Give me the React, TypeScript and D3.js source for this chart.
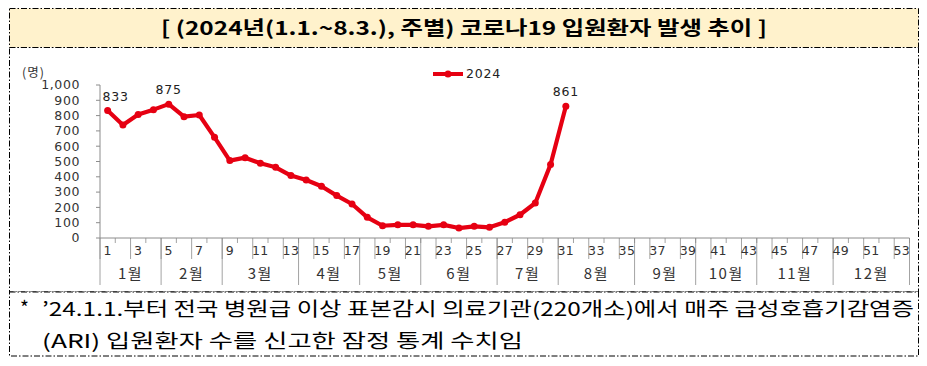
import React from "react";
import * as d3 from "d3";

const weeks: number[] = Array.from({ length: 53 }, (_, i) => i + 1);
const patients2024: number[] = [
  833, 739, 807, 839, 875, 793, 804, 658, 506, 525, 488, 462, 408, 379, 338,
  277, 222, 135, 80, 86, 86, 76, 86, 65, 76, 70, 103, 152, 229, 480, 861,
];
const labelledWeeks: number[] = [1, 5, 31];
const yTicks: number[] = [0, 100, 200, 300, 400, 500, 600, 700, 800, 900, 1000];
const months: string[] = ["1월", "2월", "3월", "4월", "5월", "6월", "7월", "8월", "9월", "10월", "11월", "12월"];
const monthWeeks: number[] = [4, 4, 5, 4, 4, 5, 4, 5, 4, 4, 5, 5];
const seriesName = "2024";
const titleText = "[ (2024년(1.1.~8.3.), 주별) 코로나19 입원환자 발생 추이 ]";
const yUnit = "(명)";
const note1a = "*";
const note1b = "’24.1.1.부터 전국 병원급 이상 표본감시 의료기관(220개소)에서 매주 급성호흡기감염증";
const note2 = "(ARI) 입원환자 수를 신고한 잠정 통계 수치임";

const W = 927;
const H = 366;
const RED = "#e60012";
const AXIS = "#8c8c8c";
const numFont = "'DejaVu Sans', Verdana, sans-serif";
const krFont = "'Noto Sans CJK KR', 'Noto Sans', sans-serif";
const dash = "6 2 1.5 2";

export default function App() {
  const x = d3.scaleBand<number>().domain(weeks).range([100, 909.5]).padding(0);
  const y = d3.scaleLinear().domain([0, 1000]).range([238, 85]);
  const cx = (w: number) => (x(w) as number) + x.bandwidth() / 2;

  const line = d3
    .line<number>()
    .x((_, i) => cx(i + 1))
    .y((v) => y(v));

  const bounds: number[] = [0];
  monthWeeks.forEach((n) => bounds.push(bounds[bounds.length - 1] + n));
  const bx = (idx: number) => 100 + idx * x.bandwidth();

  const fmt = d3.format(",");

  return (
    <svg width={W} height={H} style={{ position: "absolute", left: 0, top: 0, background: "#fff" }}>
      {/* Title box */}
      <rect x={9.5} y={8.5} width={909} height={39} fill="#fff2cc" stroke="#000" strokeDasharray={dash} />
      <text
        x={464}
        y={35}
        textAnchor="middle"
        fontFamily={krFont}
        fontWeight="bold"
        fontSize={19}
        textLength={606}
        lengthAdjust="spacingAndGlyphs"
        fill="#000"
      >
        {titleText}
      </text>

      {/* Chart box */}
      <rect x={9.5} y={47.5} width={909} height={244.5} fill="#fff" stroke="#000" strokeDasharray={dash} />

      {/* Y unit */}
      <text x={22} y={77} fontFamily={krFont} fontSize={12.5} letterSpacing={1} fill="#333">{yUnit}</text>

      {/* Y axis */}
      <line x1={100} x2={100} y1={y(1000)} y2={y(0)} stroke={AXIS} />
      {yTicks.map((t) => (
        <g key={t}>
          <line x1={96} x2={100} y1={y(t)} y2={y(t)} stroke={AXIS} />
          <text
            x={80}
            y={y(t)}
            dy="0.35em"
            textAnchor="end"
            fontFamily={numFont}
            fontSize={12.5}
            letterSpacing={0.6}
            fill="#333"
          >
            {fmt(t)}
          </text>
        </g>
      ))}

      {/* X axis */}
      <line x1={100} x2={909.5} y1={238} y2={238} stroke={AXIS} />
      {d3.range(0, 54).map((i) => (
        <line
          key={"m" + i}
          x1={bx(i)}
          x2={bx(i)}
          y1={238}
          y2={i % 2 === 0 ? 259 : 243}
          stroke={AXIS}
          strokeWidth={0.8}
        />
      ))}
      {bounds.map((b, i) => (
        <line key={"b" + i} x1={bx(b)} x2={bx(b)} y1={238} y2={285} stroke={AXIS} strokeWidth={0.8} />
      ))}
      {weeks
        .filter((w) => w % 2 === 1)
        .map((w) => (
          <text
            key={"w" + w}
            x={cx(w)}
            y={255}
            textAnchor="middle"
            fontFamily={numFont}
            fontSize={12.5}
            letterSpacing={0.4}
            fill="#333"
          >
            {w}
          </text>
        ))}
      {months.map((m, i) => (
        <text
          key={m}
          x={(bx(bounds[i]) + bx(bounds[i + 1])) / 2}
          y={279}
          textAnchor="middle"
          fontFamily={krFont}
          fontSize={15}
          letterSpacing={1.5}
          fill="#333"
        >
          {m}
        </text>
      ))}

      {/* Series */}
      <path d={line(patients2024) || ""} fill="none" stroke={RED} strokeWidth={4.2} strokeLinejoin="round" />
      {patients2024.map((v, i) => (
        <circle key={i} cx={cx(i + 1)} cy={y(v)} r={3.5} fill={RED} />
      ))}
      {labelledWeeks.map((w) => (
        <text
          key={"l" + w}
          x={cx(w) + (w === 1 ? 8 : 0)}
          y={y(patients2024[w - 1]) - 10}
          textAnchor="middle"
          fontFamily={numFont}
          fontSize={12.5}
          letterSpacing={0.8}
          fill="#222"
        >
          {patients2024[w - 1]}
        </text>
      ))}

      {/* Legend */}
      <line x1={433} x2={463} y1={74} y2={74} stroke={RED} strokeWidth={4} />
      <circle cx={448} cy={74} r={3.5} fill={RED} />
      <text x={466} y={74} dy="0.35em" fontFamily={numFont} fontSize={12.5} letterSpacing={0.8} fill="#222">
        {seriesName}
      </text>

      {/* Footer box */}
      <rect x={9.5} y={292} width={909} height={64} fill="#fff" stroke="#000" strokeDasharray={dash} />
      <text x={20} y={315} fontFamily={krFont} fontSize={19} fill="#000">{note1a}</text>
      <text
        x={42}
        y={316}
        fontFamily={krFont}
        fontSize={19}
        textLength={872}
        lengthAdjust="spacingAndGlyphs"
        fill="#000"
      >
        {note1b}
      </text>
      <text
        x={42}
        y={348}
        fontFamily={krFont}
        fontSize={19}
        textLength={481}
        lengthAdjust="spacingAndGlyphs"
        fill="#000"
      >
        {note2}
      </text>
    </svg>
  );
}
